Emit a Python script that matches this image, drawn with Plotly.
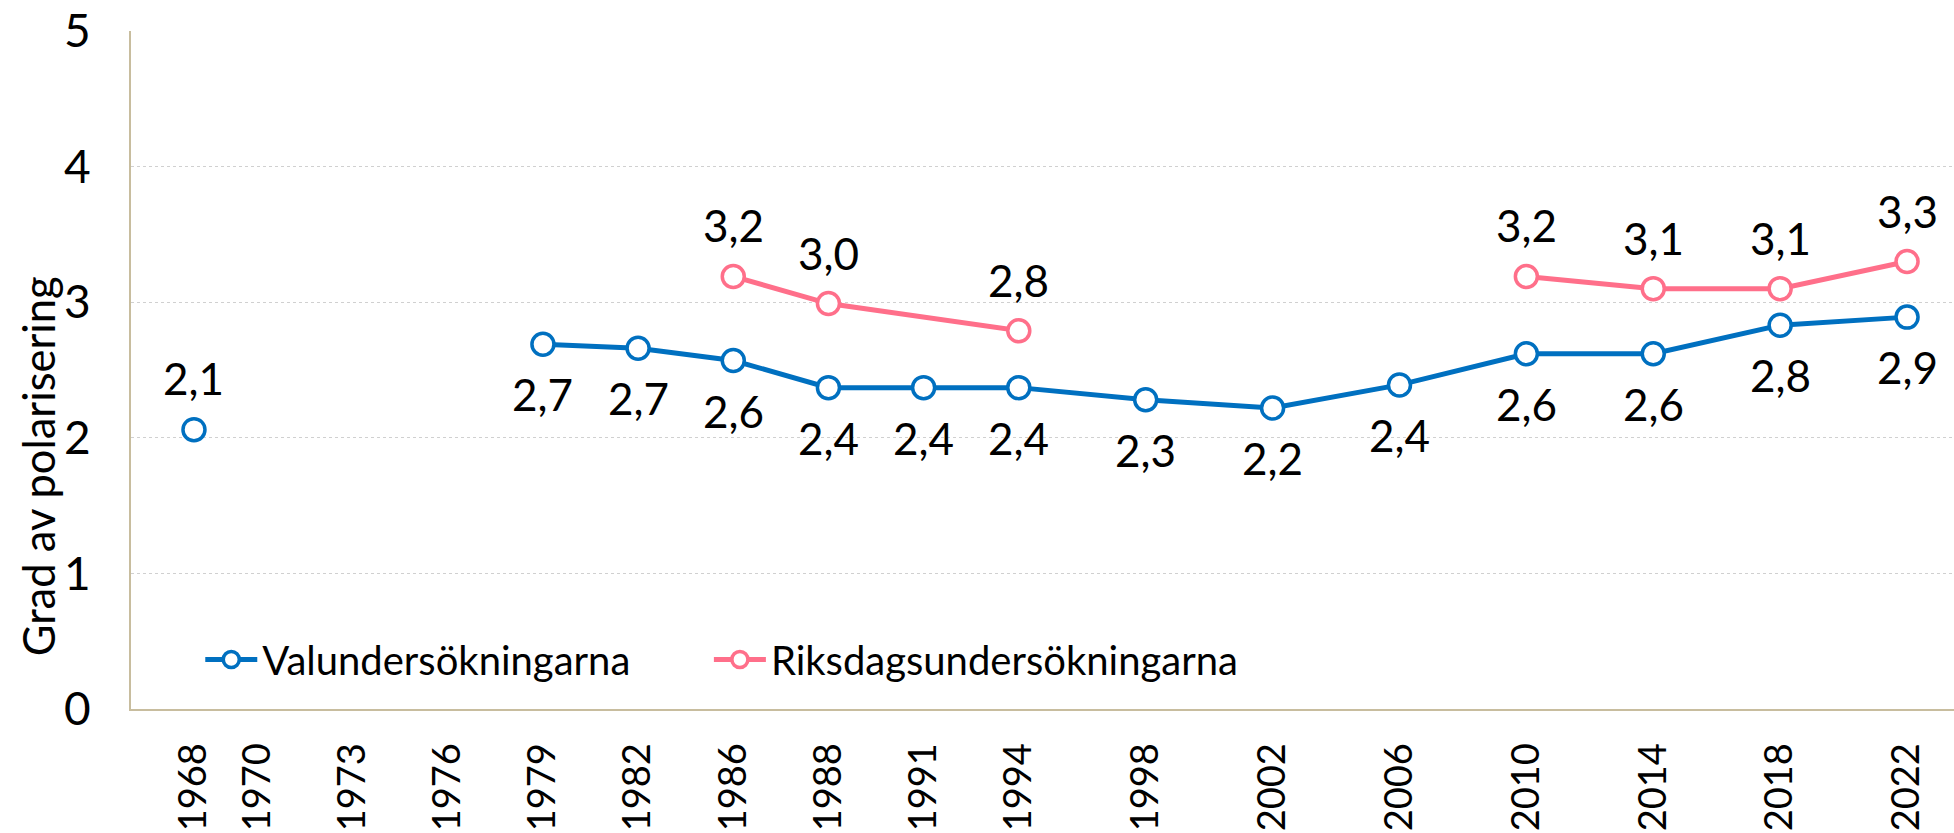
import plotly.graph_objects as go

# Category axis (Excel-style): tick labels and their slot index on the category axis
tick_years = ["1968", "1970", "1973", "1976", "1979", "1982", "1986", "1988", "1991",
              "1994", "1998", "2002", "2006", "2010", "2014", "2018", "2022"]
tick_slots = [0, 2, 5, 8, 11, 14, 17, 20, 23, 26, 30, 34, 38, 42, 46, 50, 54]

# Valundersökningarna (None = break in line)
val_years = ["1968", None, "1979", "1982", "1986", "1988", "1991", "1994", "1998",
             "2002", "2006", "2010", "2014", "2018", "2022"]
val_values = [2.06, None, 2.69, 2.66, 2.57, 2.37, 2.37, 2.37, 2.28,
              2.22, 2.39, 2.62, 2.62, 2.83, 2.89]
val_label_above = ["1968"]

# Riksdagsundersökningarna
riks_years = ["1986", "1988", "1994", None, "2010", "2014", "2018", "2022"]
riks_values = [3.19, 2.99, 2.79, None, 3.19, 3.10, 3.10, 3.30]

BLUE = "#0070C0"
PINK = "#FF6F8A"
FONT = "Lato, Roboto, sans-serif"

slot_of = dict(zip(tick_years, tick_slots))


def xs(years):
    return [slot_of[y] if y is not None else None for y in years]


def fmt(v):
    return f"{v:.1f}".replace(".", ",")


fig = go.Figure()
fig.add_trace(go.Scatter(
    x=xs(val_years), y=val_values, name="Valundersökningarna", legend="legend",
    mode="lines+markers", connectgaps=False,
    line=dict(color=BLUE, width=5),
    marker=dict(symbol="circle", size=22, color="white", line=dict(color=BLUE, width=3.5)),
))
fig.add_trace(go.Scatter(
    x=xs(riks_years), y=riks_values, name="Riksdagsundersökningarna", legend="legend2",
    mode="lines+markers", connectgaps=False,
    line=dict(color=PINK, width=5),
    marker=dict(symbol="circle", size=22, color="white", line=dict(color=PINK, width=3.5)),
))

LBL = 44
annotations = []
for yr, v in zip(val_years, val_values):
    if yr is None:
        continue
    annotations.append(dict(x=slot_of[yr], y=v, text=fmt(v), showarrow=False,
                            yshift=52 if yr in val_label_above else -50,
                            font=dict(family=FONT, size=LBL, color="black")))
for yr, v in zip(riks_years, riks_values):
    if yr is None:
        continue
    annotations.append(dict(x=slot_of[yr], y=v, text=fmt(v), showarrow=False,
                            yshift=51, font=dict(family=FONT, size=LBL, color="black")))

annotations.append(dict(xref="paper", yref="paper", x=-0.051, y=0.358,
                        text="Grad av polarisering", textangle=-90, showarrow=False,
                        xanchor="center", yanchor="middle",
                        font=dict(family=FONT, size=43.5, color="black")))

AXIS = "#C8BD9E"
leg_common = dict(orientation="h", xanchor="left", yanchor="middle",
                  bgcolor="rgba(0,0,0,0)", font=dict(family=FONT, size=40, color="black"),
                  itemwidth=52)
fig.update_layout(
    width=1954, height=833,
    margin=dict(l=131, r=0, t=31, b=124),
    paper_bgcolor="white", plot_bgcolor="white",
    font=dict(family=FONT, size=40, color="black"),
    showlegend=True,
    legend=dict(x=0.038, y=0.073, **leg_common),
    legend2=dict(x=0.317, y=0.073, **leg_common),
    annotations=annotations,
    xaxis=dict(range=[-1.985, 55.48], tickmode="array", tickvals=tick_slots, ticktext=tick_years,
               tickangle=-90, showgrid=False, zeroline=False, showline=True, automargin=False,
               linecolor=AXIS, linewidth=2, ticks="", ticklabelstandoff=17,
               tickfont=dict(family=FONT, size=38, color="black")),
    yaxis=dict(range=[0, 5], tickvals=[0, 1, 2, 3, 4, 5], showgrid=True, gridcolor="#D0D0D0",
               griddash="dot", gridwidth=1, zeroline=False, showline=True, automargin=False,
               linecolor=AXIS, linewidth=2, ticks="", ticklabelstandoff=29,
               tickfont=dict(family=FONT, size=46, color="black")),
)

fig.write_html("out.html", config={"displayModeBar": False},
               post_script="document.body.style.margin='0';")
